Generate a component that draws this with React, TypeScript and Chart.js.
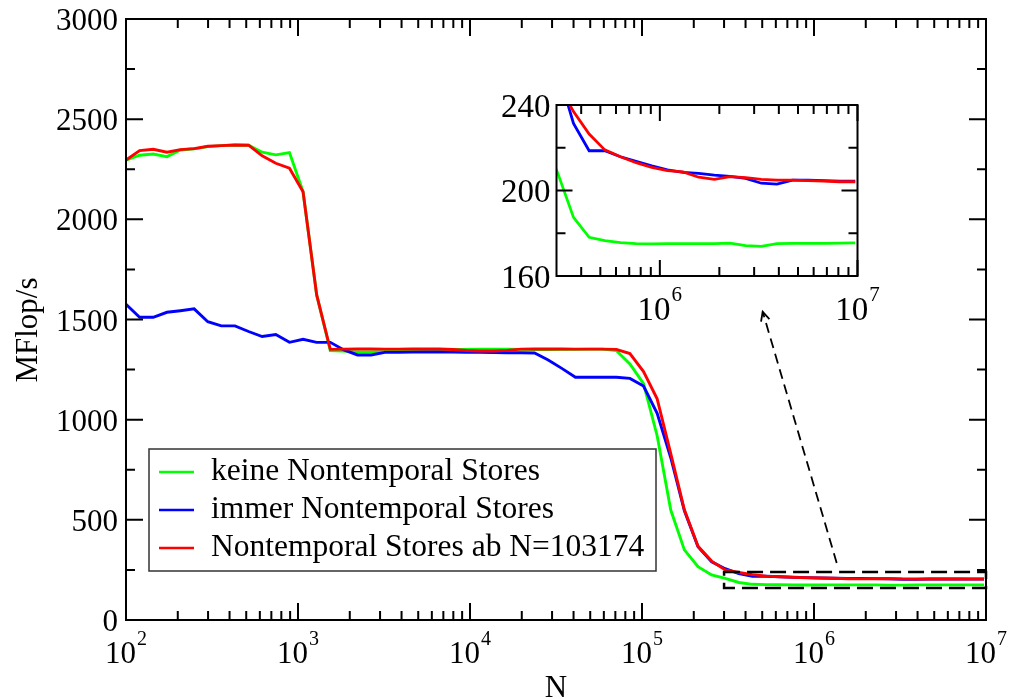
import React, { useEffect, useRef } from "react";
import { Chart, registerables } from "chart.js";

Chart.register(...registerables);

// Problem sizes N (vector length), geometric steps of 1.2
const sizes = [
  100, 120, 144, 173, 207, 249, 299, 358, 430, 516, 619, 743, 892, 1070, 1284, 1541,
  1849, 2219, 2662, 3195, 3834, 4601, 5521, 6625, 7950, 9540, 11448, 13737, 16484, 19781, 23738, 28485,
  34182, 41019, 49222, 59067, 70880, 85056, 102067, 122481, 146977, 176373, 211647, 253977, 304772, 365726, 438871, 526646,
  631975, 758370, 910044, 1092053, 1310463, 1572556, 1887067, 2264480, 2717376, 3260852, 3913022, 4695626, 5634751, 6761702, 8114042, 9736850,
];

// MFlop/s without nontemporal stores
const keineNT = [
  2296, 2320, 2326, 2313, 2346, 2352, 2363, 2368, 2371, 2370, 2335, 2322, 2333, 2138, 1623, 1345,
  1342, 1338, 1338, 1340, 1346, 1348, 1350, 1350, 1351, 1351, 1352, 1352, 1352, 1351, 1350, 1350,
  1351, 1351, 1352, 1352, 1345, 1278, 1180, 920, 549, 350, 266, 225, 208, 187.4, 178.1, 176.5,
  175.6, 175.1, 175.0, 175.1, 175.1, 175.1, 175.1, 175.4, 174.2, 173.9, 175.1, 175.3, 175.3, 175.3, 175.4, 175.5,
];

// MFlop/s with nontemporal stores everywhere
const immerNT = [
  1576, 1511, 1511, 1536, 1544, 1553, 1489, 1468, 1468, 1440, 1415, 1425, 1386, 1401, 1386, 1386,
  1348, 1323, 1323, 1336, 1336, 1337, 1338, 1338, 1337, 1336, 1336, 1335, 1334, 1334, 1333, 1298,
  1256, 1212, 1212, 1212, 1212, 1206, 1168, 1032, 810, 545, 366, 290, 256, 231.4, 218.6, 218.6,
  215.8, 213.6, 211.5, 209.6, 208.5, 208.0, 207.2, 206.6, 205.7, 203.4, 203.0, 204.9, 204.9, 204.6, 204.4, 204.4,
];

// MFlop/s with nontemporal stores from N=103174 on
const abNT = [
  2296, 2343, 2350, 2335, 2348, 2353, 2365, 2368, 2371, 2370, 2317, 2280, 2255, 2138, 1623, 1351,
  1352, 1353, 1353, 1352, 1352, 1353, 1353, 1353, 1350, 1345, 1343, 1343, 1346, 1352, 1353, 1353,
  1353, 1352, 1352, 1352, 1351, 1330, 1240, 1104, 830, 550, 368, 294, 250, 236.9, 226.4, 219.0,
  215.8, 213.0, 210.8, 209.3, 208.7, 206.2, 205.2, 206.5, 206.0, 205.2, 204.9, 204.9, 204.6, 204.4, 204.1, 204.1,
];

const seriesLabels = [
  "keine Nontemporal Stores",
  "immer Nontemporal Stores",
  "Nontemporal Stores ab N=103174",
];
const seriesColors = ["#00ff00", "#0000ff", "#ff0000"];

// Main axes
const mainXRange = [100, 1e7];
const mainYRange = [0, 3000];
const mainXDecades = [2, 3, 4, 5, 6, 7];
const mainYLabels = [0, 500, 1000, 1500, 2000, 2500, 3000];
const mainYMinor = [250, 750, 1250, 1750, 2250, 2750];

// Zoomed window (also the extent of the dashed box)
const insetXRange = [3e5, 1e7];
const insetYRange = [160, 240];
const insetXDecades = [6, 7];
const insetYLabels = [160, 200, 240];
const insetYMinor = [180, 220];

// Arrow from the dashed box towards the inset, in data units [N, MFlop/s]
const arrowFrom = [1.355e6, 285];
const arrowTo = [5.03e5, 1539];

const SERIF = '"Liberation Serif", "Times New Roman", serif';

function logMinor(min: number, max: number): number[] {
  const out: number[] = [];
  for (let d = Math.floor(Math.log10(min)); d < Math.log10(max); d++) {
    for (let m = 2; m <= 9; m++) {
      const v = m * Math.pow(10, d);
      if (v > min * 1.0001 && v < max * 0.9999) out.push(v);
    }
  }
  return out;
}

function buildDatasets(width: number) {
  const all = [keineNT, immerNT, abNT];
  return all.map((vals, k) => ({
    label: seriesLabels[k],
    data: sizes.map((n, i) => ({ x: n, y: vals[i] })),
    borderColor: seriesColors[k],
    backgroundColor: seriesColors[k],
    borderWidth: width,
    pointRadius: 0,
    tension: 0,
    fill: false,
    order: 3 - k,
  }));
}

type Spec = {
  xMajor: number[];
  xMinor: number[];
  yMajor: number[];
  yMinor: number[];
  majorLen: number;
  minorLen: number;
  lineWidth: number;
};

function drawFrame(chart: any, s: Spec) {
  const { ctx, chartArea: a, scales } = chart;
  const sx = scales.x;
  const sy = scales.y;
  ctx.save();
  ctx.strokeStyle = "#000";
  ctx.setLineDash([]);
  ctx.lineWidth = s.lineWidth;
  ctx.beginPath();
  const xt = (v: number, len: number) => {
    const p = sx.getPixelForValue(v);
    ctx.moveTo(p, a.bottom);
    ctx.lineTo(p, a.bottom - len);
    ctx.moveTo(p, a.top);
    ctx.lineTo(p, a.top + len);
  };
  const yt = (v: number, len: number) => {
    const p = sy.getPixelForValue(v);
    ctx.moveTo(a.left, p);
    ctx.lineTo(a.left + len, p);
    ctx.moveTo(a.right, p);
    ctx.lineTo(a.right - len, p);
  };
  s.xMajor.forEach((v) => xt(v, s.majorLen));
  s.xMinor.forEach((v) => xt(v, s.minorLen));
  s.yMajor.forEach((v) => yt(v, s.majorLen));
  s.yMinor.forEach((v) => yt(v, s.minorLen));
  ctx.stroke();
  ctx.strokeRect(a.left, a.top, a.right - a.left, a.bottom - a.top);
  ctx.restore();
}

function drawPow(ctx: CanvasRenderingContext2D, cx: number, baseY: number, exp: number, size: number, supSize: number, raise: number) {
  const base = `${size}px ${SERIF}`;
  const sup = `${supSize}px ${SERIF}`;
  ctx.font = base;
  const w1 = ctx.measureText("10").width;
  ctx.font = sup;
  const w2 = ctx.measureText(String(exp)).width;
  const x0 = cx - (w1 + 1 + w2) / 2;
  ctx.textAlign = "left";
  ctx.textBaseline = "alphabetic";
  ctx.font = base;
  ctx.fillText("10", x0, baseY);
  ctx.font = sup;
  ctx.fillText(String(exp), x0 + w1 + 1, baseY - raise);
}

const mainDecor = {
  id: "mainDecor",
  afterDatasetsDraw(chart: any) {
    const { ctx, chartArea: a, scales } = chart;
    const sx = scales.x;
    const sy = scales.y;

    drawFrame(chart, {
      xMajor: mainXDecades.map((d) => Math.pow(10, d)),
      xMinor: logMinor(mainXRange[0], mainXRange[1]),
      yMajor: mainYLabels,
      yMinor: mainYMinor,
      majorLen: 17,
      minorLen: 9,
      lineWidth: 2,
    });

    ctx.save();
    ctx.fillStyle = "#000";
    // y tick labels
    ctx.font = `31px ${SERIF}`;
    ctx.textAlign = "right";
    ctx.textBaseline = "alphabetic";
    mainYLabels.forEach((v) => {
      ctx.fillText(String(v), a.left - 8, sy.getPixelForValue(v) + 11);
    });
    // x tick labels
    mainXDecades.forEach((d) => {
      drawPow(ctx, sx.getPixelForValue(Math.pow(10, d)), a.bottom + 43, d, 31, 20, 18);
    });
    // axis titles
    ctx.font = `31px ${SERIF}`;
    ctx.textAlign = "center";
    ctx.fillText("N", (a.left + a.right) / 2, a.bottom + 77);
    ctx.save();
    ctx.translate(37, 330);
    ctx.rotate(-Math.PI / 2);
    ctx.fillText("MFlop/s", 0, 0);
    ctx.restore();

    // dashed box marking the zoomed window
    ctx.strokeStyle = "#000";
    ctx.lineWidth = 2.5;
    ctx.setLineDash([16, 7]);
    const bx0 = sx.getPixelForValue(insetXRange[0]);
    const bx1 = sx.getPixelForValue(insetXRange[1]);
    const by0 = sy.getPixelForValue(insetYRange[1]);
    const by1 = sy.getPixelForValue(insetYRange[0]);
    ctx.strokeRect(bx0, by0, bx1 - bx0, by1 - by0);

    // dashed arrow towards the inset
    const ax0 = sx.getPixelForValue(arrowFrom[0]);
    const ay0 = sy.getPixelForValue(arrowFrom[1]);
    const ax1 = sx.getPixelForValue(arrowTo[0]);
    const ay1 = sy.getPixelForValue(arrowTo[1]);
    ctx.lineWidth = 1.8;
    ctx.setLineDash([10, 6]);
    ctx.beginPath();
    ctx.moveTo(ax0, ay0);
    ctx.lineTo(ax1, ay1);
    ctx.stroke();
    ctx.setLineDash([]);
    const ang = Math.atan2(ay1 - ay0, ax1 - ax0);
    const hl = 10;
    ctx.beginPath();
    ctx.moveTo(ax1 - hl * Math.cos(ang - 0.45), ay1 - hl * Math.sin(ang - 0.45));
    ctx.lineTo(ax1, ay1);
    ctx.lineTo(ax1 - hl * Math.cos(ang + 0.45), ay1 - hl * Math.sin(ang + 0.45));
    ctx.stroke();

    // legend
    const lx = 149, ly = 449, lw = 507, lh = 122;
    ctx.fillStyle = "#fff";
    ctx.fillRect(lx, ly, lw, lh);
    ctx.strokeStyle = "#333";
    ctx.lineWidth = 1.5;
    ctx.strokeRect(lx, ly, lw, lh);
    ctx.font = `31.5px ${SERIF}`;
    ctx.textAlign = "left";
    seriesLabels.forEach((label, k) => {
      const rowY = ly + 23 + k * 38;
      ctx.strokeStyle = seriesColors[k];
      ctx.lineWidth = 2.5;
      ctx.beginPath();
      ctx.moveTo(lx + 10, rowY);
      ctx.lineTo(lx + 45, rowY);
      ctx.stroke();
      ctx.fillStyle = "#000";
      ctx.fillText(label, lx + 62, rowY + 8);
    });
    ctx.restore();
  },
};

const insetDecor = {
  id: "insetDecor",
  beforeDatasetsDraw(chart: any) {
    const { ctx, chartArea: a } = chart;
    ctx.save();
    ctx.fillStyle = "#fff";
    ctx.fillRect(a.left, a.top, a.right - a.left, a.bottom - a.top);
    ctx.restore();
  },
  afterDatasetsDraw(chart: any) {
    const { ctx, chartArea: a, scales } = chart;
    const sx = scales.x;
    const sy = scales.y;
    drawFrame(chart, {
      xMajor: insetXDecades.map((d) => Math.pow(10, d)),
      xMinor: logMinor(insetXRange[0], insetXRange[1]),
      yMajor: insetYLabels,
      yMinor: insetYMinor,
      majorLen: 16,
      minorLen: 9,
      lineWidth: 2,
    });
    ctx.save();
    ctx.fillStyle = "#000";
    ctx.font = `33px ${SERIF}`;
    ctx.textAlign = "right";
    ctx.textBaseline = "alphabetic";
    insetYLabels.forEach((v) => {
      ctx.fillText(String(v), a.left - 6, sy.getPixelForValue(v) + 11.5);
    });
    insetXDecades.forEach((d) => {
      drawPow(ctx, sx.getPixelForValue(Math.pow(10, d)), a.bottom + 44, d, 33, 21, 19);
    });
    ctx.restore();
  },
};

function baseOptions(xr: number[], yr: number[], padding: any) {
  return {
    responsive: false,
    animation: false as const,
    events: [],
    layout: { padding },
    plugins: { legend: { display: false }, tooltip: { enabled: false } },
    scales: {
      x: { type: "logarithmic" as const, min: xr[0], max: xr[1], display: false },
      y: { type: "linear" as const, min: yr[0], max: yr[1], display: false },
    },
  };
}

// Inset canvas placement on the page
const INSET_LEFT = 470;
const INSET_TOP = 80;
const INSET_W = 420;
const INSET_H = 262;

export default function App() {
  const mainRef = useRef<HTMLCanvasElement | null>(null);
  const insetRef = useRef<HTMLCanvasElement | null>(null);

  useEffect(() => {
    if (!mainRef.current || !insetRef.current) return;
    const main = new Chart(mainRef.current, {
      type: "line",
      data: { datasets: buildDatasets(2.9) as any },
      options: baseOptions(mainXRange, mainYRange, { left: 126, right: 23, top: 19, bottom: 79 }) as any,
      plugins: [mainDecor],
    });
    const inset = new Chart(insetRef.current, {
      type: "line",
      data: { datasets: buildDatasets(2.8) as any },
      options: baseOptions(insetXRange, insetYRange, {
        left: 556.5 - INSET_LEFT,
        right: INSET_LEFT + INSET_W - 857.5,
        top: 105 - INSET_TOP,
        bottom: INSET_TOP + INSET_H - 276,
      }) as any,
      plugins: [insetDecor],
    });
    return () => {
      main.destroy();
      inset.destroy();
    };
  }, []);

  return (
    <div style={{ position: "absolute", left: 0, top: 0, width: 1009, height: 699, background: "#fff" }}>
      <canvas ref={mainRef} width={1009} height={699} style={{ position: "absolute", left: 0, top: 0, display: "block" }} />
      <canvas
        ref={insetRef}
        width={INSET_W}
        height={INSET_H}
        style={{ position: "absolute", left: INSET_LEFT, top: INSET_TOP, display: "block" }}
      />
    </div>
  );
}
